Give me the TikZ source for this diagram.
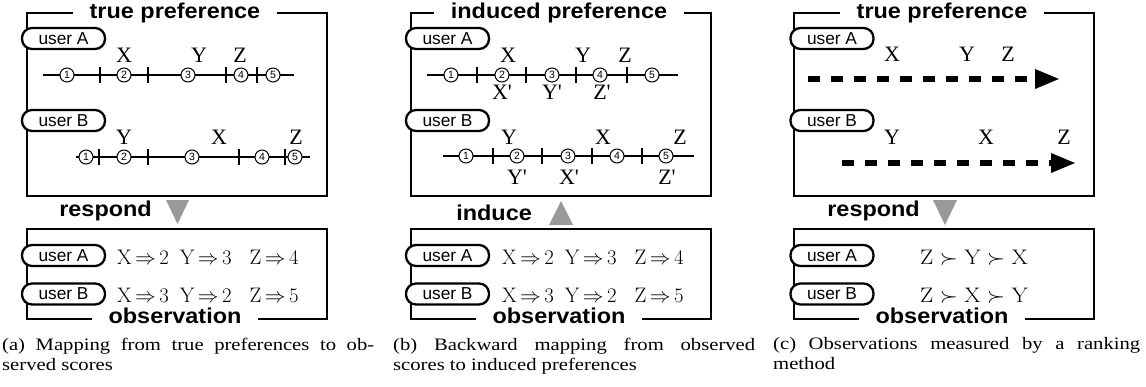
\documentclass[tikz,border=0pt]{standalone}
\usepackage{fontspec}
\usepackage{graphicx}
\usetikzlibrary{arrows.meta}
\newfontfamily\labelfont{Liberation Sans}
\newfontfamily\headfont{Liberation Sans}[FakeStretch=1.09]
\newfontfamily\itemfont{Liberation Serif}
\newfontfamily\capfont{Liberation Serif}[FakeStretch=1.18]
\newcommand{\pr}{\textquotesingle}

\tikzset{
  panel/.style={draw, line width=1.5pt, inner sep=0pt},
  head/.style={fill=white, inner xsep=17pt, inner ysep=2pt, anchor=base,
    font=\headfont\fontsize{21.5}{24}\selectfont\bfseries},
  flowtext/.style={inner sep=0pt, anchor=base east,
    font=\headfont\fontsize{21.5}{24}\selectfont\bfseries},
  flowmark/.style={fill=black!40},
  userbox/.style={draw, line width=2.3pt, rounded corners=10pt, fill=white,
    minimum width=83pt, minimum height=21pt, inner sep=0pt,
    font=\labelfont\fontsize{17.3}{20}\selectfont},
  scoreline/.style={line width=2.4pt},
  tickmark/.style={line width=2.8pt},
  num/.style={circle, draw, line width=1pt, fill=white, minimum size=14pt,
    inner sep=0pt, font=\labelfont\fontsize{10.5}{12}\selectfont},
  item/.style={inner sep=0pt, font=\itemfont\fontsize{22}{24}\selectfont},
  rankline/.style={line width=6pt, dash pattern=on 12pt off 11pt,
    -{Triangle[length=25pt, width=18pt]}},
  scoretext/.style={anchor=base west, inner sep=0pt, font=\fontsize{21}{24}\selectfont},
  ranktext/.style={anchor=base west, inner sep=0pt, font=\fontsize{21}{24}\selectfont},
  caption/.style={anchor=north west, inner sep=0pt, align=justify,
    font=\capfont\fontsize{17.5}{20}\selectfont}
}

\begin{document}
\begin{tikzpicture}[x=1pt, y=-1pt]
  \useasboundingbox (0,0) rectangle (1146,386);

  % (a) true preference -> observation
  \begin{scope}
    \node[panel, minimum width=300pt, minimum height=183pt] (aTop) at (177,104.5) {};
    \node[head] (aTopT) at (175,18) {true preference};
    \node[userbox] (aTopA) at (63.5,38.5) {user A};
    \node[userbox] (aTopB) at (63.5,120.5) {user B};

    \coordinate (aAl) at (43,75);
    \coordinate (aAr) at (294,75);
    \draw[scoreline] (aAl) -- (aAr);
    \foreach \x in {100,148,226,257} \draw[tickmark] (\x,67) -- (\x,83);
    \foreach \n/\x in {1/67,2/124,3/188,4/241,5/273} \node[num] (aA\n) at (\x,75) {\n};
    \node[item] (aAX) at (124,55) {X};
    \node[item] (aAY) at (199,55) {Y};
    \node[item] (aAZ) at (240,55) {Z};

    \coordinate (aBl) at (76,157);
    \coordinate (aBr) at (310,157);
    \draw[scoreline] (aBl) -- (aBr);
    \foreach \x in {99,148,239,285} \draw[tickmark] (\x,149) -- (\x,165);
    \foreach \n/\x in {1/86,2/124,3/192,4/262,5/295} \node[num] (aB\n) at (\x,157) {\n};
    \node[item] (aBY) at (124,137) {Y};
    \node[item] (aBX) at (219,137) {X};
    \node[item] (aBZ) at (296,137) {Z};

    \fill[flowmark] (166,200) -- (189,200) -- (177.5,224) -- cycle;
    \node[flowtext] (aResp) at (152,216) {respond};

    \node[panel, minimum width=300pt, minimum height=90pt] (aObs) at (177,274) {};
    \node[head] (aObsT) at (175,323) {observation};
    \node[userbox] (aObsA) at (63.5,255.5) {user A};
    \node[userbox] (aObsB) at (63.5,294) {user B};
    \node[scoretext] (aObsAs) at (117,264) {$\mathrm{X}\,{\Rightarrow}\,2$\hspace{11pt}$\mathrm{Y}\,{\Rightarrow}\,3$\hspace{18pt}$\mathrm{Z}\,{\Rightarrow}\,4$};
    \node[scoretext] (aObsBs) at (117,302) {$\mathrm{X}\,{\Rightarrow}\,3$\hspace{11pt}$\mathrm{Y}\,{\Rightarrow}\,2$\hspace{18pt}$\mathrm{Z}\,{\Rightarrow}\,5$};

    \node[caption, text width=372pt] (aCap) at (2,337.5) {(a) Mapping from true preferences to ob-\linebreak served scores};
  \end{scope}

  % (b) observation -> induced preference
  \begin{scope}[xshift=384pt]
    \node[panel, minimum width=300pt, minimum height=183pt] (bTop) at (177,104.5) {};
    \node[head] (bTopT) at (175,18) {induced preference};
    \node[userbox] (bTopA) at (63.5,38.5) {user A};
    \node[userbox] (bTopB) at (63.5,120.5) {user B};

    \coordinate (bAl) at (43,75);
    \coordinate (bAr) at (294,75);
    \draw[scoreline] (bAl) -- (bAr);
    \foreach \x in {93,142,192,243} \draw[tickmark] (\x,67) -- (\x,83);
    \foreach \n/\x in {1/67,2/118,3/168,4/216,5/268} \node[num] (bA\n) at (\x,75) {\n};
    \node[item] (bAX) at (124,55) {X};
    \node[item] (bAY) at (199,55) {Y};
    \node[item] (bAZ) at (241,55) {Z};
    \node[item] (bAXp) at (118,92.5) {X\pr};
    \node[item] (bAYp) at (168,92.5) {Y\pr};
    \node[item] (bAZp) at (218,92.5) {Z\pr};

    \coordinate (bBl) at (59,156);
    \coordinate (bBr) at (310,156);
    \draw[scoreline] (bBl) -- (bBr);
    \foreach \x in {109,158,208,258} \draw[tickmark] (\x,148) -- (\x,164);
    \foreach \n/\x in {1/82,2/133,3/184,4/233,5/282} \node[num] (bB\n) at (\x,156) {\n};
    \node[item] (bBY) at (125,137) {Y};
    \node[item] (bBX) at (219,137) {X};
    \node[item] (bBZ) at (296,137) {Z};
    \node[item] (bBYp) at (133,177.5) {Y\pr};
    \node[item] (bBXp) at (185,177.5) {X\pr};
    \node[item] (bBZp) at (283,177.5) {Z\pr};

    \fill[flowmark] (165,225) -- (189,225) -- (177,201) -- cycle;
    \node[flowtext] (bInd) at (148,220) {induce};

    \node[panel, minimum width=300pt, minimum height=90pt] (bObs) at (177,274) {};
    \node[head] (bObsT) at (175,323) {observation};
    \node[userbox] (bObsA) at (63.5,255.5) {user A};
    \node[userbox] (bObsB) at (63.5,294) {user B};
    \node[scoretext] (bObsAs) at (118,264) {$\mathrm{X}\,{\Rightarrow}\,2$\hspace{11pt}$\mathrm{Y}\,{\Rightarrow}\,3$\hspace{18pt}$\mathrm{Z}\,{\Rightarrow}\,4$};
    \node[scoretext] (bObsBs) at (118,302) {$\mathrm{X}\,{\Rightarrow}\,3$\hspace{11pt}$\mathrm{Y}\,{\Rightarrow}\,2$\hspace{18pt}$\mathrm{Z}\,{\Rightarrow}\,5$};

    \node[caption, text width=362pt] (bCap) at (9,337.5) {(b) Backward mapping from observed\linebreak scores to induced preferences};
  \end{scope}

  % (c) true preference -> ranking
  \begin{scope}[xshift=767pt]
    \node[panel, minimum width=300pt, minimum height=183pt] (cTop) at (177,104.5) {};
    \node[head] (cTopT) at (175,18) {true preference};
    \node[userbox] (cTopA) at (65,38.5) {user A};
    \node[userbox] (cTopB) at (65,120.5) {user B};

    \coordinate (cAl) at (41,79);
    \coordinate (cAr) at (293,79);
    \draw[rankline] (cAl) -- (cAr);
    \node[item] (cAX) at (125,54.5) {X};
    \node[item] (cAY) at (200,54.5) {Y};
    \node[item] (cAZ) at (241,54.5) {Z};

    \coordinate (cBl) at (75,163);
    \coordinate (cBr) at (309,163);
    \draw[rankline] (cBl) -- (cBr);
    \node[item] (cBY) at (125,137) {Y};
    \node[item] (cBX) at (219,137) {X};
    \node[item] (cBZ) at (297,137) {Z};

    \fill[flowmark] (166,200) -- (190,200) -- (178,225) -- cycle;
    \node[flowtext] (cResp) at (153,216) {respond};

    \node[panel, minimum width=300pt, minimum height=90pt] (cObs) at (177,274) {};
    \node[head] (cObsT) at (175,323) {observation};
    \node[userbox] (cObsA) at (65,255.5) {user A};
    \node[userbox] (cObsB) at (65,294) {user B};
    \node[ranktext] (cObsAs) at (153,264) {\scalebox{1.12}[1]{$\mathrm{Z}\succ\mathrm{Y}\succ\mathrm{X}$}};
    \node[ranktext] (cObsBs) at (153,302) {\scalebox{1.12}[1]{$\mathrm{Z}\succ\mathrm{X}\succ\mathrm{Y}$}};

    \node[caption, text width=367pt] (cCap) at (6,337.5) {(c) Observations measured by a ranking\linebreak method};
  \end{scope}
\end{tikzpicture}
\end{document}
